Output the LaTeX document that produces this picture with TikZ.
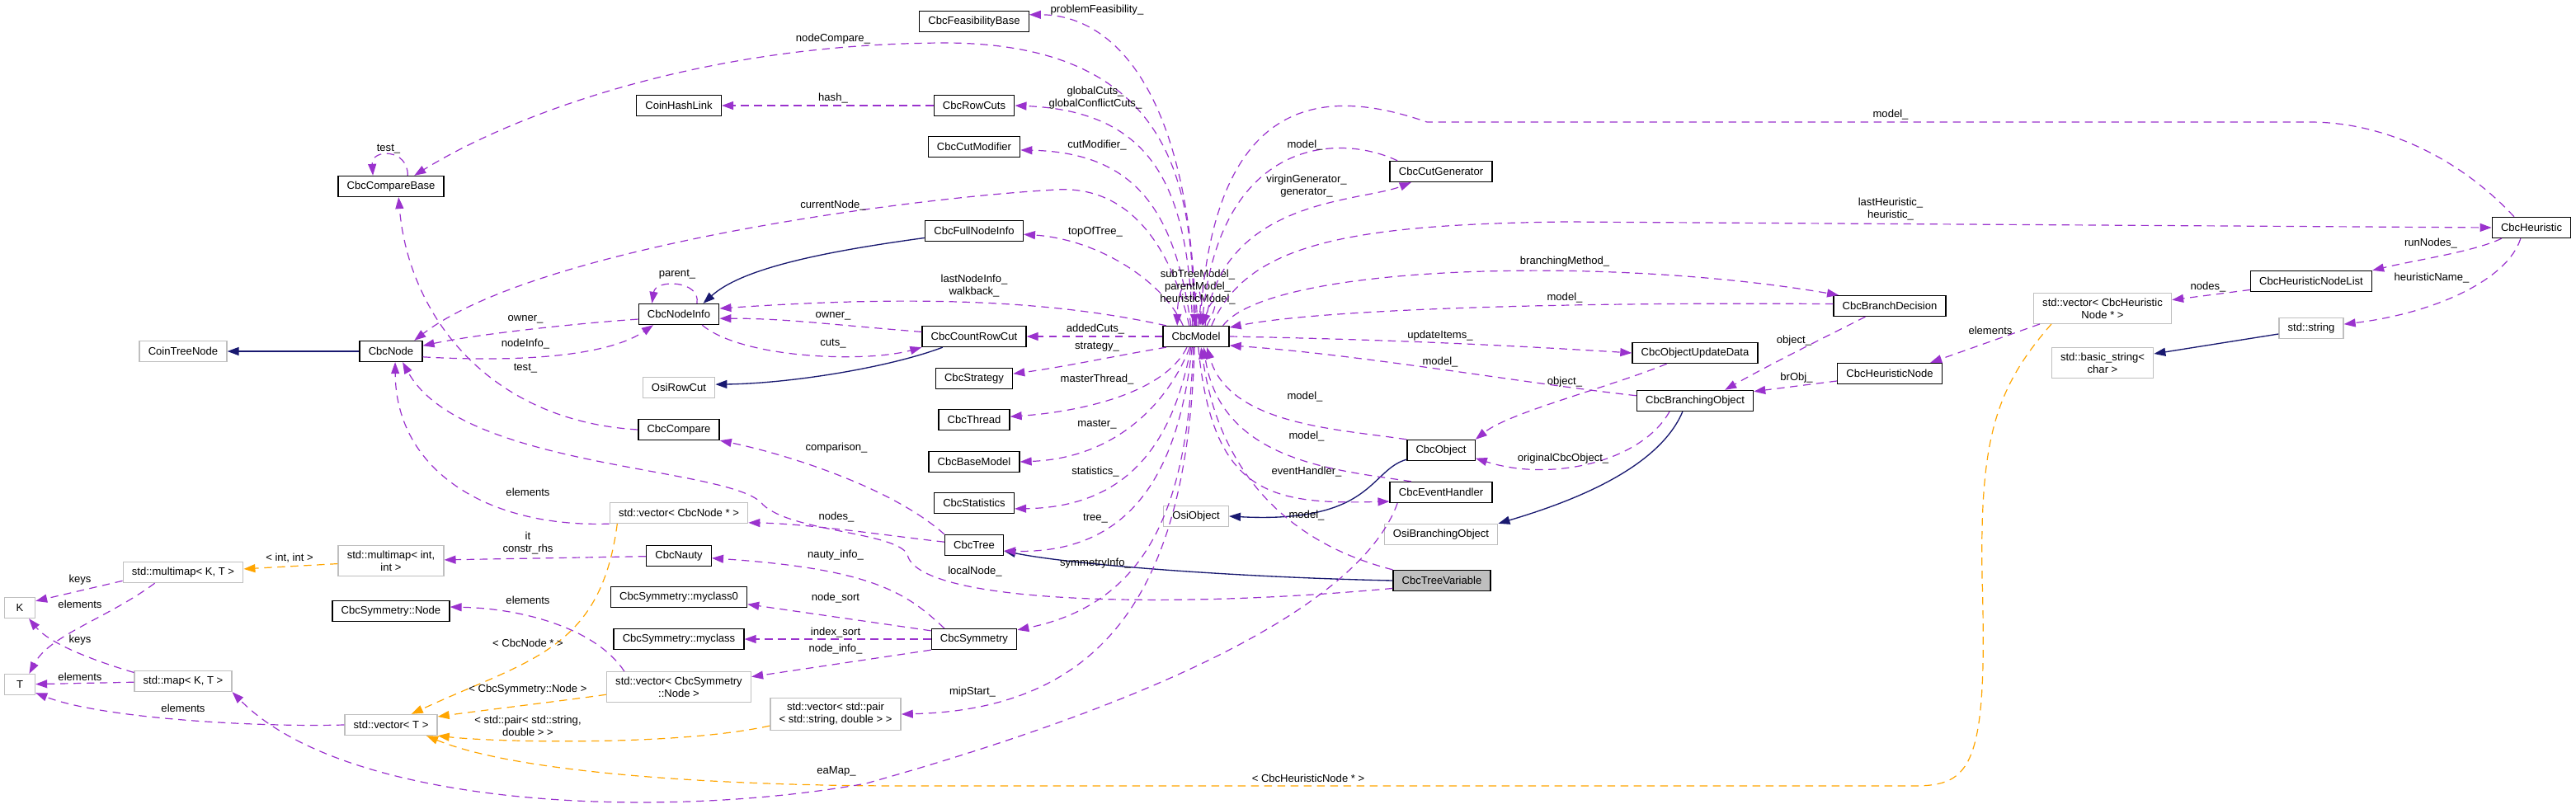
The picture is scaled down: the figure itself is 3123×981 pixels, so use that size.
\documentclass[tikz,border=0pt]{standalone}
\usepackage{fontspec}
\setmainfont{Liberation Sans}
\usetikzlibrary{arrows.meta}
\definecolor{usepurple}{RGB}{154,50,205}
\definecolor{inhnavy}{RGB}{25,25,112}
\definecolor{tmplorange}{RGB}{255,165,0}
\definecolor{extgray}{RGB}{191,191,191}

\begin{document}
\begin{tikzpicture}[
  x=0.75pt, y=-0.75pt,
  font=\fontsize{9.8}{11.25}\selectfont,
  cls/.style={draw=black, line width=1pt, fill=white, align=center,
    minimum height=18.75pt, inner xsep=8pt, inner ysep=4.5pt},
  extcls/.style={cls, draw=extgray},
  rootcls/.style={cls, fill=extgray},
  onechar/.style={minimum width=27.75pt},
  lbl/.style={inner sep=1pt, align=center, text=black},
  uses/.style={draw=usepurple, line width=0.9pt, dash pattern=on 7pt off 5pt,
    -{Triangle[length=10.5pt, width=7.5pt]}},
  inherits/.style={draw=inhnavy, line width=1pt, -{Triangle[length=10.5pt, width=7.5pt]}},
  instance/.style={draw=tmplorange, line width=0.9pt, dash pattern=on 7pt off 5pt,
    -{Triangle[length=10.5pt, width=7.5pt]}}
]
\useasboundingbox (0,0) rectangle (3123,981);

\node[cls] (cmpbase) at (474,226) {CbcCompareBase};
\node[cls] (hashlink) at (823,128) {CoinHashLink};
\node[extcls] (treenode) at (222,426) {CoinTreeNode};
\node[cls] (cbcnode) at (474,426) {CbcNode};
\node[cls] (nodeinfo) at (823,381) {CbcNodeInfo};
\node[extcls] (rowcut) at (823,470) {OsiRowCut};
\node[cls] (compare) at (823,521) {CbcCompare};
\node[extcls] (vecnode) at (823,622) {std::vector< CbcNode * >};
\node[extcls] (mmapii) at (474,680) {std::multimap< int,\\int >};
\node[extcls] (mmapkt) at (222,694) {std::multimap< K, T >};
\node[cls] (nauty) at (823,674) {CbcNauty};
\node[extcls, onechar] (kk) at (24,737) {K};
\node[cls] (myclass0) at (823,724) {CbcSymmetry::myclass0};
\node[cls] (symnode) at (474,741) {CbcSymmetry::Node};
\node[cls] (myclass) at (823,775) {CbcSymmetry::myclass};
\node[extcls, onechar] (tt) at (24,830) {T};
\node[extcls] (mapkt) at (222,826) {std::map< K, T >};
\node[extcls] (vecsym) at (823,833) {std::vector< CbcSymmetry\\::Node >};
\node[extcls] (vect) at (474,879) {std::vector< T >};
\node[extcls] (vecpair) at (1013,866) {std::vector< std::pair\\< std::string, double > >};

\node[cls] (feasbase) at (1181,26) {CbcFeasibilityBase};
\node[cls] (rowcuts) at (1181,128) {CbcRowCuts};
\node[cls] (cutmod) at (1181,178) {CbcCutModifier};
\node[cls] (fullinfo) at (1181,280) {CbcFullNodeInfo};
\node[cls] (countcut) at (1181,408) {CbcCountRowCut};
\node[cls] (strategy) at (1181,459) {CbcStrategy};
\node[cls] (thread) at (1181,509) {CbcThread};
\node[cls] (basemodel) at (1181,560) {CbcBaseModel};
\node[cls] (stats) at (1181,610) {CbcStatistics};
\node[cls] (tree) at (1181,661) {CbcTree};
\node[cls] (symmetry) at (1181,775) {CbcSymmetry};

\node[cls] (model) at (1450,408) {CbcModel};
\node[extcls] (osiobj) at (1450,626) {OsiObject};
\node[cls] (cutgen) at (1747,208) {CbcCutGenerator};
\node[cls] (cbcobj) at (1747,546) {CbcObject};
\node[cls] (evhandler) at (1747,597) {CbcEventHandler};
\node[extcls] (osibrobj) at (1747,648) {OsiBranchingObject};
\node[rootcls] (treevar) at (1748,704) {CbcTreeVariable};
\node[cls] (updata) at (2055,428) {CbcObjectUpdateData};
\node[cls] (brobj) at (2055,486) {CbcBranchingObject};

\node[cls] (brdec) at (2291,371) {CbcBranchDecision};
\node[cls] (heurnode) at (2291,453) {CbcHeuristicNode};
\node[extcls] (vecheur) at (2549,374) {std::vector< CbcHeuristic\\Node * >};
\node[extcls] (basicstr) at (2549,440) {std::basic\_string<\\char >};
\node[cls] (heurlist) at (2802,341) {CbcHeuristicNodeList};
\node[extcls] (string) at (2802,398) {std::string};
\node[cls] (heur) at (3069,276) {CbcHeuristic};

\draw[inherits] (cbcnode) -- (treenode);
\draw[inherits] (fullinfo.188) .. controls (1000,305) and (900,325) .. (nodeinfo.24);
\draw[inherits] (countcut.199) .. controls (1080,445) and (960,465) .. (rowcut.5);
\draw[inherits] (cbcobj.195) .. controls (1660,570) and (1665,635) .. (osiobj.east);
\draw[inherits] (brobj.221) .. controls (2010,570) and (1900,610) .. (osibrobj.north east);
\draw[inherits] (treevar.west) .. controls (1500,700) and (1300,685) .. (tree.-11);
\draw[inherits] (string.190) -- (basicstr.10);

\draw[instance] (mmapii) -- (mmapkt) node[lbl] at (351,677) {< int, int >};
\draw[instance] (vecnode.190) .. controls (728,790) and (640,800) .. (vect.28)
  node[lbl] at (640,780) {< CbcNode * >};
\draw[instance] (vecsym.186) .. controls (680,850) and (580,862) .. (vect.10)
  node[lbl] at (640,836) {< CbcSymmetry::Node >};
\draw[instance] (vecpair.190) .. controls (820,905) and (600,900) .. (vect.south east)
  node[lbl] at (640,880) {< std::pair< std::string,\\double > >};
\draw[instance] (vecheur.197) .. controls (2420,470) and (2400,530) .. (2403,700)
  .. controls (2410,930) and (2390,953) .. (2320,953) -- (1100,953)
  .. controls (850,953) and (620,935) .. (vect.-17)
  node[lbl] at (1586,944) {< CbcHeuristicNode * >};

\draw[uses] (cmpbase.33) .. controls (495,180) and (450,180) .. (cmpbase.149)
  node[lbl] at (471,181) {test\_};
\draw[uses] (model.100) .. controls (1445,250) and (1440,55) .. (1150,52)
  .. controls (850,52) and (620,140) .. (cmpbase.25) node[lbl] at (1010,47) {nodeCompare\_};
\draw[uses] (rowcuts) -- (hashlink) node[lbl] at (1010,119) {hash\_};
\draw[uses] (model.108) .. controls (1440,230) and (1400,135) .. (rowcuts.east)
  node[lbl] at (1328,119) {globalCuts\_\\globalConflictCuts\_};
\draw[uses] (model.92) .. controls (1445,130) and (1360,18) .. (feasbase.7)
  node[lbl] at (1330,12) {problemFeasibility\_};
\draw[uses] (model.115) .. controls (1425,260) and (1380,185) .. (cutmod.-4)
  node[lbl] at (1330,176) {cutModifier\_};
\draw[uses] (model.140) .. controls (1410,340) and (1330,290) .. (fullinfo.-4)
  node[lbl] at (1328,281) {topOfTree\_};
\draw[uses] (model.122) .. controls (1420,300) and (1370,225) .. (1281,230)
  .. controls (1100,240) and (650,300) .. (cbcnode.25) node[lbl] at (1010,249) {currentNode\_};
\draw[uses] (model.160) .. controls (1300,370) and (1150,355) .. (nodeinfo.8)
  node[lbl] at (1181,347) {lastNodeInfo\_\\walkback\_};
\draw[uses] (countcut.175) .. controls (1000,393) and (950,386) .. (nodeinfo.-6)
  node[lbl] at (1010,383) {owner\_};
\draw[uses] (nodeinfo.-25) .. controls (900,435) and (1050,440) .. (countcut.south west)
  node[lbl] at (1010,417) {cuts\_};
\draw[uses] (nodeinfo.31) .. controls (850,340) and (795,338) .. (nodeinfo.158)
  node[lbl] at (821,333) {parent\_};
\draw[uses] (cbcnode.-10) .. controls (640,440) and (740,430) .. (nodeinfo.203)
  node[lbl] at (637,417) {nodeInfo\_};
\draw[uses] (nodeinfo.187) .. controls (700,392) and (580,405) .. (cbcnode.10)
  node[lbl] at (637,387) {owner\_};
\draw[uses] (compare.west) .. controls (590,510) and (495,380) .. (cmpbase.-55)
  node[lbl] at (637,447) {test\_};

\draw[uses] (model) -- (countcut) node[lbl] at (1328,399) {addedCuts\_};
\draw[uses] (model.200) .. controls (1360,430) and (1290,445) .. (strategy.7)
  node[lbl] at (1330,421) {strategy\_};
\draw[uses] (model.230) .. controls (1410,480) and (1300,500) .. (thread.5)
  node[lbl] at (1330,460) {masterThread\_};
\draw[uses] (model.240) .. controls (1420,480) and (1360,555) .. (basemodel.east)
  node[lbl] at (1330,515) {master\_};
\draw[uses] (model.245) .. controls (1425,520) and (1380,615) .. (stats.-8)
  node[lbl] at (1328,572) {statistics\_};
\draw[uses] (model.250) .. controls (1430,560) and (1380,672) .. (tree.-11)
  node[lbl] at (1328,629) {tree\_};
\draw[uses] (model.256) .. controls (1440,600) and (1400,730) .. (symmetry.12)
  node[lbl] at (1328,683) {symmetryInfo\_};
\draw[uses] (model.262) .. controls (1440,700) and (1350,860) .. (vecpair.east)
  node[lbl] at (1179,839) {mipStart\_};

\draw[uses] (model.88) .. controls (1455,330) and (1428,330) .. (model.150);
\draw[uses] (model.80) .. controls (1462,340) and (1446,340) .. (model.96);
\draw[uses] (model.45) .. controls (1482,360) and (1470,356) .. (model.58)
  node[lbl] at (1452,348) {subTreeModel\_\\parentModel\_\\heuristicModel\_};

\draw[uses] (model.50) .. controls (1480,240) and (1650,245) .. (cutgen.200)
  node[lbl] at (1584,226) {virginGenerator\_\\generator\_};
\draw[uses] (cutgen.166) .. controls (1620,160) and (1480,170) .. (model.62)
  node[lbl] at (1582,176) {model\_};
\draw[uses] (heur.148) .. controls (2990,200) and (2900,148) .. (2800,148) -- (1730,148)
  .. controls (1620,110) and (1475,100) .. (model.70) node[lbl] at (2292,139) {model\_};
\draw[uses] (model.35) .. controls (1510,300) and (1620,272) .. (1900,269) -- (heur.west)
  node[lbl] at (2292,254) {lastHeuristic\_\\heuristic\_};
\draw[uses] (model.22) .. controls (1540,320) and (1950,310) .. (brdec.168)
  node[lbl] at (1897,317) {branchingMethod\_};
\draw[uses] (brdec.178) .. controls (1900,366) and (1600,375) .. (model.15)
  node[lbl] at (1897,361) {model\_};
\draw[uses] (model.east) .. controls (1700,412) and (1850,420) .. (updata.west)
  node[lbl] at (1746,407) {updateItems\_};
\draw[uses] (brobj.175) .. controls (1850,465) and (1650,430) .. (model.-15)
  node[lbl] at (1746,439) {model\_};
\draw[uses] (updata.201) .. controls (1950,470) and (1830,500) .. (cbcobj.north east)
  node[lbl] at (1897,463) {object\_};
\draw[uses] (brdec.204) .. controls (2200,415) and (2140,445) .. (brobj.20)
  node[lbl] at (2175,413) {object\_};
\draw[uses] (heurnode.188) -- (brobj.9) node[lbl] at (2178,458) {brObj\_};
\draw[uses] (brobj.203) .. controls (1990,560) and (1880,585) .. (cbcobj.-13)
  node[lbl] at (1895,556) {originalCbcObject\_};
\draw[uses] (cbcobj.north west) .. controls (1620,520) and (1490,515) .. (model.-45)
  node[lbl] at (1582,481) {model\_};
\draw[uses] (evhandler.160) .. controls (1620,570) and (1480,560) .. (model.-55)
  node[lbl] at (1584,529) {model\_};
\draw[uses] (model.-78) .. controls (1470,600) and (1540,612) .. (evhandler.190)
  node[lbl] at (1584,572) {eventHandler\_};
\draw[uses] (treevar.north west) .. controls (1490,640) and (1465,480) .. (model.-65)
  node[lbl] at (1584,625) {model\_};
\draw[uses] (evhandler.194) .. controls (1640,760) and (1300,880) .. (1050,950)
  .. controls (800,995) and (420,980) .. (mapkt.south east) node[lbl] at (1014,935) {eaMap\_};
\draw[uses] (treevar.189) .. controls (1400,740) and (1110,730) .. (1100,672)
  .. controls (1085,645) and (960,645) .. (925,612)
  .. controls (890,565) and (560,570) .. (cbcnode.-43) node[lbl] at (1182,693) {localNode\_};
\draw[uses] (vecnode.south west) .. controls (590,640) and (480,570) .. (cbcnode.-69)
  node[lbl] at (640,597) {elements};
\draw[uses] (tree.174) .. controls (1080,650) and (980,635) .. (vecnode.-8)
  node[lbl] at (1014,627) {nodes\_};
\draw[uses] (tree.north west) .. controls (1080,590) and (950,550) .. (compare.south east)
  node[lbl] at (1014,543) {comparison\_};

\draw[uses] (symmetry.160) .. controls (1100,720) and (1060,690) .. (nauty.-4)
  node[lbl] at (1013,673) {nauty\_info\_};
\draw[uses] (symmetry.169) -- (myclass0.-6) node[lbl] at (1013,725) {node\_sort};
\draw[uses] (symmetry) -- (myclass) node[lbl] at (1013,767) {index\_sort};
\draw[uses] (symmetry.south west) -- (vecsym.8) node[lbl] at (1013,787) {node\_info\_};
\draw[uses] (nauty) -- (mmapii) node[lbl] at (640,659) {it\\constr\_rhs};
\draw[uses] (vecsym.164) .. controls (725,765) and (640,738) .. (symnode.4)
  node[lbl] at (640,728) {elements};

\draw[uses] (mmapkt.188) -- (kk.23) node[lbl] at (97,703) {keys};
\draw[uses] (mmapkt.201) .. controls (130,750) and (60,770) .. (tt.49)
  node[lbl] at (97,733) {elements};
\draw[uses] (mapkt.170) .. controls (110,800) and (60,780) .. (kk.-50)
  node[lbl] at (97,776) {keys};
\draw[uses] (mapkt) -- (tt) node[lbl] at (97,821) {elements};
\draw[uses] (vect.west) .. controls (300,882) and (120,870) .. (tt.-28)
  node[lbl] at (222,859) {elements};

\draw[uses] (vecheur.194) -- (heurnode.15) node[lbl] at (2413,401) {elements};
\draw[uses] (heurlist.188) -- (vecheur.7) node[lbl] at (2677,348) {nodes\_};
\draw[uses] (heur.200) .. controls (3000,305) and (2930,315) .. (heurlist.north east)
  node[lbl] at (2947,295) {runNodes\_};
\draw[uses] (heur.225) .. controls (3040,340) and (2950,380) .. (string.7)
  node[lbl] at (2948,337) {heuristicName\_};

\end{tikzpicture}
\end{document}
